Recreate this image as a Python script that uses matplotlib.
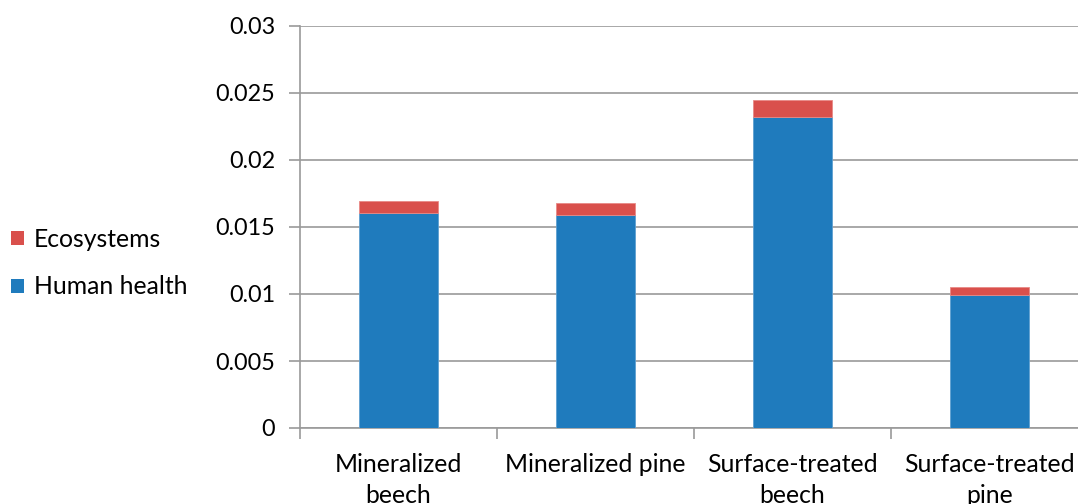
import matplotlib
matplotlib.use("Agg")
import matplotlib.pyplot as plt
import numpy as np
from matplotlib.patches import Patch

categories = ["Mineralized\nbeech", "Mineralized pine", "Surface-treated\nbeech", "Surface-treated\npine"]
human_health = [0.01604, 0.0159, 0.02319, 0.0099]
ecosystems = [0.0009, 0.0009, 0.0013, 0.00062]
y_ticks = [0, 0.005, 0.01, 0.015, 0.02, 0.025, 0.03]
y_tick_labels = ["0", "0.005", "0.01", "0.015", "0.02", "0.025", "0.03"]

blue = "#1f7bbd"
red = "#d9504c"
grid_grey = "#9a9a9a"

plt.rcParams["font.family"] = ["Lato", "DejaVu Sans"]

fig = plt.figure(figsize=(10.78, 5.04), dpi=100)
ax = fig.add_axes([300 / 1078, 1 - 428 / 504, 788 / 1078, (428 - 26) / 504])

x = np.arange(len(categories))
width = 0.4
ax.bar(x, human_health, width, color=blue, edgecolor="#5fa0d0", linewidth=0.6, zorder=3)
ax.bar(x, ecosystems, width, bottom=human_health, color=red, edgecolor="#e88a86",
       linewidth=0.6, zorder=3)

ax.set_xlim(-0.5, len(categories) - 0.5)
ax.set_ylim(0, 0.03)
ax.set_yticks(y_ticks)
ax.set_yticklabels(y_tick_labels, fontsize=16.8)
ax.yaxis.grid(True, color=grid_grey, linewidth=1.2, zorder=0)
ax.set_axisbelow(True)

# Category labels centred under each bar; tick marks at category boundaries
ax.set_xticks(x)
ax.set_xticklabels(categories, fontsize=17.8, linespacing=1.4)
ax.tick_params(axis="x", which="major", length=0, pad=18)
ax.set_xticks(np.arange(-0.5, len(categories), 1.0), minor=True)
ax.tick_params(axis="x", which="minor", length=8, width=1.2, color=grid_grey, direction="out")
ax.tick_params(axis="y", length=8, width=1.2, color=grid_grey, direction="out", pad=10)

for side in ["top", "right"]:
    ax.spines[side].set_visible(False)
for side in ["left", "bottom"]:
    ax.spines[side].set_color(grid_grey)
    ax.spines[side].set_linewidth(1.2)

handles = [Patch(facecolor=red, label="Ecosystems"), Patch(facecolor=blue, label="Human health")]
fig.legend(handles=handles, loc="center left", bbox_to_anchor=(-0.010, 1 - 263 / 504),
           frameon=False, fontsize=17.8, handlelength=0.5, handleheight=0.5,
           handletextpad=0.4, labelspacing=1.0)

fig.savefig("out.png", dpi=100)
